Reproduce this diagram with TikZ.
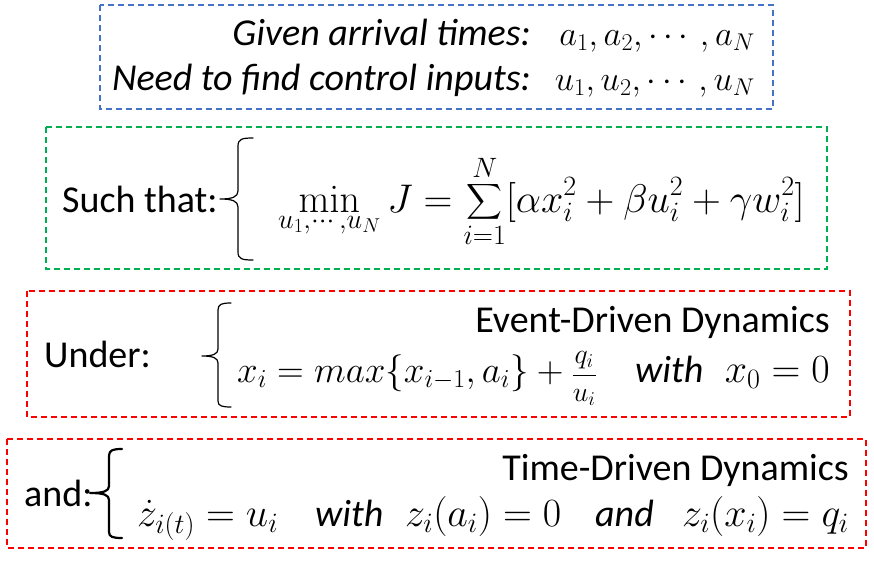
\RequirePackage{fix-cm}
\documentclass[tikz,border=0pt]{standalone}
\usepackage{amsmath}
\usepackage[no-math]{fontspec}
\setmainfont{Carlito}
\definecolor{boxblue}{HTML}{4472C4}
\definecolor{boxgreen}{HTML}{00B050}
\definecolor{boxred}{HTML}{FF0000}
\tikzset{
  dbox/.style={line width=1.8pt, dash pattern=on 6pt off 4pt},
  txt/.style={inner sep=0pt, font=\fontsize{38}{42}\selectfont},
  itxt/.style={inner sep=0pt, font=\fontsize{38}{42}\selectfont\itshape},
  mth/.style={inner sep=0pt, font=\fontsize{40}{44}\selectfont},
  bracepath/.style={line width=1.2pt, line cap=round, line join=round},
}
\begin{document}
\begin{tikzpicture}[x=1pt,y=-1pt]
\useasboundingbox (0,0) rectangle (874,560);
% boxes
\draw[dbox,boxblue] (100,5) rectangle (773,109);
\draw[dbox,boxgreen] (46,127) rectangle (827,269);
\draw[dbox,boxred] (27,291) rectangle (850,417);
\draw[dbox,boxred] (7,439) rectangle (866,548);
% blue box text
\node[itxt,anchor=base east] (given) at (531,45) {Given arrival times:};
\node[mth,anchor=base east,font=\fontsize{34.5}{38}\selectfont] (givenm) at (755,45) {$a_1, a_2, \cdots, a_N$};
\node[itxt,anchor=base east] (need) at (531,90) {Need to find control inputs:};
\node[mth,anchor=base east,font=\fontsize{34.5}{38}\selectfont] (needm) at (755,90) {$u_1, u_2, \cdots, u_N$};
% green box
\node[txt,anchor=base west] (such) at (62,212) {Such that:};
\draw[bracepath] (253,138) .. controls (242,138) and (238,139) .. (238,146)
  -- (238,191) .. controls (238,197) and (232,199) .. (220,199)
  .. controls (232,199) and (238,201) .. (238,207)
  -- (238,252) .. controls (238,259) and (242,260) .. (253,260);
\node[mth,anchor=base west] (cost) at (278,212) {$\displaystyle\min_{u_1,\cdots,u_N} J = \sum_{i=1}^{N}[\alpha x_i^2 + \beta u_i^2 + \gamma w_i^2]$};
% red box 1
\node[txt,anchor=base west] (under) at (44,367) {Under:};
\draw[bracepath] (231,303) .. controls (222,303) and (218,304) .. (218,310)
  -- (218,349) .. controls (218,354) and (213,356) .. (202,356)
  .. controls (213,356) and (218,358) .. (218,363)
  -- (218,401) .. controls (218,406) and (222,407) .. (231,407);
\node[txt,anchor=base east] (edd) at (830,332) {Event-Driven Dynamics};
\node[mth,anchor=base west,font=\fontsize{37}{41}\selectfont] (eddm1) at (237,382) {$x_i = max\{x_{i-1}, a_i\} + \mbox{\fontsize{28}{30}\selectfont$\displaystyle\frac{q_i}{u_i}$}$};
\node[itxt,anchor=base west] (eddw) at (635,382) {with};
\node[mth,anchor=base east] (eddm2) at (830,382) {$x_0 = 0$};
% red box 2
\node[txt,anchor=base west] (and) at (24,506) {and:};
\draw[bracepath,line width=2.2pt] (122,449) .. controls (113,449) and (109,450) .. (109,456)
  -- (109,486) .. controls (109,491) and (104,493) .. (90,493)
  .. controls (104,493) and (109,495) .. (109,500)
  -- (109,532) .. controls (109,537) and (113,538) .. (122,538);
\node[txt,anchor=base east] (tdd) at (849,480) {Time-Driven Dynamics};
\node[mth,anchor=base west] (tddm1) at (137,526) {$\dot z_{i(t)} = u_i$};
\node[itxt,anchor=base west] (tddw) at (315,526) {with};
\node[mth,anchor=base west] (tddm2) at (405,526) {$z_i(a_i) = 0$};
\node[itxt,anchor=base west] (tdda) at (595,526) {and};
\node[mth,anchor=base east] (tddm3) at (849,526) {$z_i(x_i) = q_i$};
\end{tikzpicture}
\end{document}
